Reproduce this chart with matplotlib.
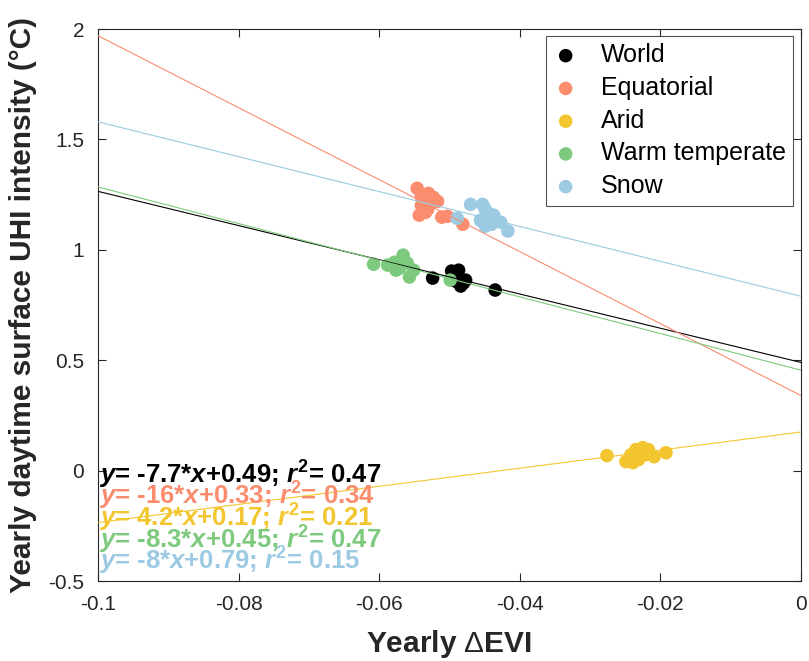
import numpy as np
import matplotlib
matplotlib.use('Agg')
import matplotlib.pyplot as plt

plt.rcParams['font.family'] = ['Liberation Sans', 'DejaVu Sans']
plt.rcParams['mathtext.fontset'] = 'custom'
plt.rcParams['mathtext.rm'] = 'Liberation Sans:bold'
plt.rcParams['mathtext.it'] = 'Liberation Sans:bold:italic'
plt.rcParams['mathtext.bf'] = 'Liberation Sans:bold'
plt.rcParams['mathtext.sf'] = 'Liberation Sans'

# groups
names = ['World', 'Equatorial', 'Arid', 'Warm temperate', 'Snow']
colors = ['#000000', '#FB8D6E', '#F3C52E', '#7DC97D', '#9CCAE2']

# yearly delta EVI (x) and UHI intensity (y) per group
world_x = [-0.0524, -0.0497, -0.0487, -0.0489, -0.0477, -0.0484, -0.0492, -0.0435, -0.0480]
world_y = [0.872, 0.904, 0.908, 0.877, 0.863, 0.836, 0.859, 0.818, 0.850]

equ_x = [-0.0546, -0.0540, -0.0530, -0.0523, -0.0517, -0.0540, -0.0531, -0.0543,
         -0.0534, -0.0511, -0.0503, -0.0481, -0.0526, -0.0536]
equ_y = [1.279, 1.241, 1.256, 1.238, 1.220, 1.202, 1.184, 1.157,
         1.170, 1.148, 1.152, 1.116, 1.211, 1.225]

arid_x = [-0.0276, -0.0249, -0.0242, -0.0235, -0.0225, -0.0217, -0.0209, -0.0231,
          -0.0192, -0.0239, -0.0221]
arid_y = [0.068, 0.041, 0.072, 0.095, 0.104, 0.095, 0.063, 0.050, 0.081, 0.036, 0.072]

warm_x = [-0.0608, -0.0588, -0.0578, -0.0566, -0.0571, -0.0557, -0.0551, -0.0560,
          -0.0499, -0.0576]
warm_y = [0.935, 0.931, 0.944, 0.976, 0.917, 0.877, 0.908, 0.940, 0.863, 0.908]

snow_x = [-0.0489, -0.0470, -0.0453, -0.0446, -0.0437, -0.0456, -0.0449, -0.0442,
          -0.0427, -0.0417, -0.0450, -0.0440]
snow_y = [1.143, 1.206, 1.206, 1.170, 1.157, 1.134, 1.107, 1.143, 1.125, 1.085,
          1.188, 1.116]

# fitted lines and the labels printed on the plot
slopes = [-7.75, -16.3, 4.1, -8.3, -7.9]
intercepts = [0.49, 0.34, 0.175, 0.455, 0.79]
fit_labels = [
    r'$y$= -7.7*$x$+0.49; $r^{2}$= 0.47',
    r'$y$= -16*$x$+0.33; $r^{2}$= 0.34',
    r'$y$= 4.2*$x$+0.17; $r^{2}$= 0.21',
    r'$y$= -8.3*$x$+0.45; $r^{2}$= 0.47',
    r'$y$= -8*$x$+0.79; $r^{2}$= 0.15',
]
label_y = [-0.06, -0.155, -0.255, -0.355, -0.45]

xs = [world_x, equ_x, arid_x, warm_x, snow_x]
ys = [world_y, equ_y, arid_y, warm_y, snow_y]

fig = plt.figure(figsize=(8.09, 6.61), dpi=100)
ax = fig.add_axes([0.1211, 0.121, 0.869, 0.835])

for x, y, c, n in zip(xs, ys, colors, names):
    ax.scatter(x, y, s=95, color=c, edgecolors='none', label=n, zorder=2)

xl = np.array([-0.1, 0])
for m, b, c in zip(slopes, intercepts, colors):
    ax.plot(xl, m * xl + b, color=c, lw=0.8, zorder=3)

for t, yy, c in zip(fit_labels, label_y, colors):
    ax.text(-0.0998, yy, t, color=c, fontsize=18.5, fontweight='bold',
            va='baseline', ha='left', zorder=4)

ax.set_xlim(-0.1, 0)
ax.set_ylim(-0.5, 2)
ax.set_xticks([-0.1, -0.08, -0.06, -0.04, -0.02, 0])
ax.set_xticklabels(['-0.1', '-0.08', '-0.06', '-0.04', '-0.02', '0'])
ax.set_yticks([-0.5, 0, 0.5, 1, 1.5, 2])
ax.set_yticklabels(['-0.5', '0', '0.5', '1', '1.5', '2'])
ax.tick_params(direction='in', length=6, width=0.8, labelsize=15, colors='#262626',
               top=True, right=True, pad=10)
for sp in ax.spines.values():
    sp.set_color('#262626')
    sp.set_linewidth(0.8)

ax.set_xlabel(r'Yearly $\mathsf{\Delta}$EVI', fontsize=21.5, fontweight='bold',
              color='#262626', labelpad=10)
ax.set_ylabel('Yearly daytime surface UHI intensity (°C)', fontsize=21.5,
              fontweight='bold', color='#262626', labelpad=8)

leg = ax.legend(loc='upper right', bbox_to_anchor=(0.996, 0.997), fontsize=18,
                frameon=True, fancybox=False, edgecolor='#262626',
                handlelength=1.0, handletextpad=0.9, labelspacing=0.35,
                borderpad=0.3, borderaxespad=0.2, scatterpoints=1)
leg.get_frame().set_linewidth(0.8)

fig.savefig('out.png', dpi=100)
